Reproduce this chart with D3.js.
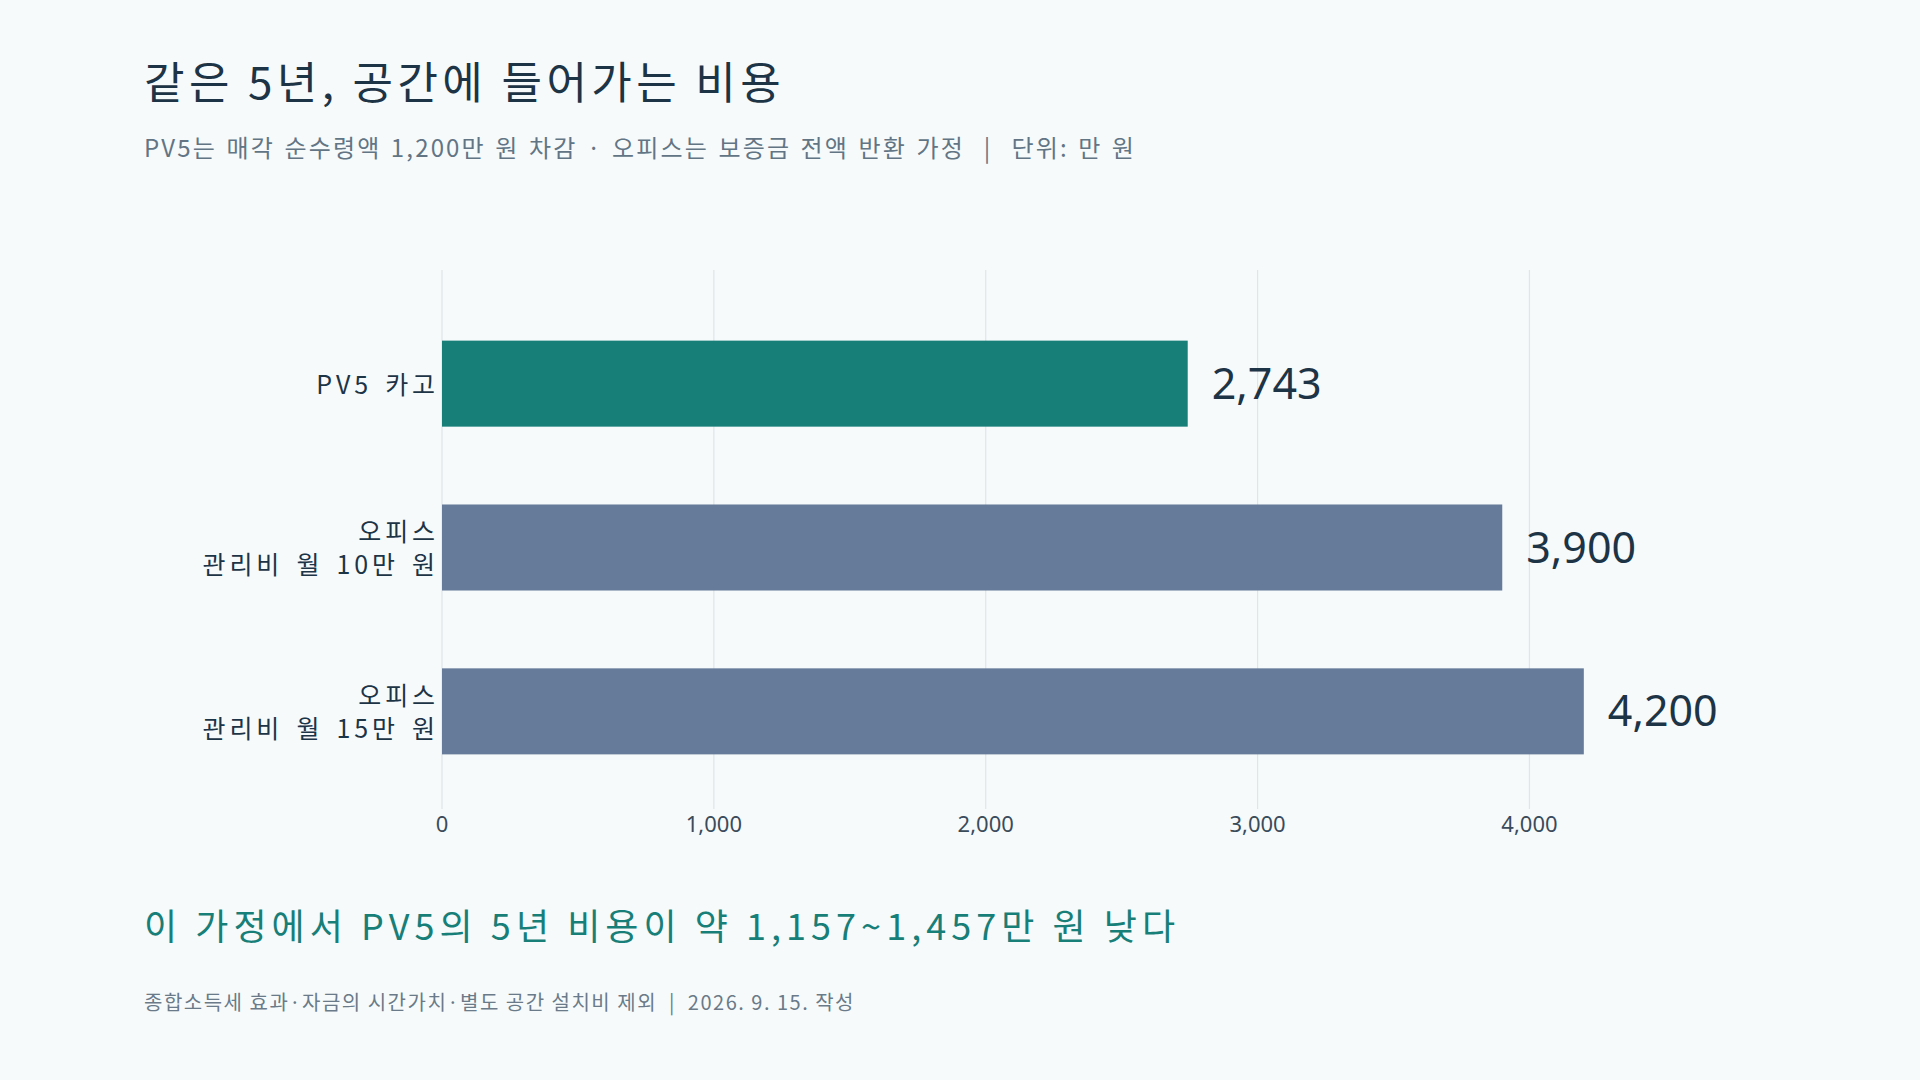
<!DOCTYPE html>
<html>
<head>
<meta charset="utf-8">
<script src="https://cdn.jsdelivr.net/npm/d3@7"></script>
<style>
  html, body { margin: 0; padding: 0; background: #f6fafb; }
  svg text { font-family: "Noto Sans CJK KR", "Noto Sans", sans-serif; white-space: pre; }
</style>
</head>
<body>
<div id="chart"></div>
<script>
// data
var categories = [['PV5 카고'], ['오피스', '관리비 월 10만 원'], ['오피스', '관리비 월 15만 원']];
var values = [2743, 3900, 4200];
var barColors = ['#177f78', '#667a99', '#667a99'];
var tickValues = [0, 1000, 2000, 3000, 4000];

var width = 1920,
    height = 1080;

var svg = d3.select('#chart')
    .append('svg')
        .attr('width', width)
        .attr('height', height);

svg.append('rect')
    .attr('width', width)
    .attr('height', height)
    .attr('fill', '#f6fafb');

// titles
svg.append('text')
    .attr('x', 144)
    .attr('y', 99)
    .attr('font-size', 44)
    .attr('letter-spacing', '0.1em')
    .attr('fill', '#1d3446')
    .text('같은 5년, 공간에 들어가는 비용');

svg.append('text')
    .attr('x', 144)
    .attr('y', 157)
    .attr('font-size', 24)
    .attr('letter-spacing', '0.09em')
    .attr('word-spacing', '0.08em')
    .attr('fill', '#627585')
    .text('PV5는 매각 순수령액 1,200만 원 차감 · 오피스는 보증금 전액 반환 가정  |  단위: 만 원');

var x = d3.scaleLinear()
    .domain([0, 4620])
    .range([442, 1698]);

var y = d3.scaleBand()
    .domain(d3.range(values.length))
    .range([270, 825])
    .paddingInner(0.475)
    .paddingOuter(0.431);

var gridTop = 270,
    gridBottom = 809;

// grid
svg.append('g').selectAll('line')
    .data(tickValues)
    .enter()
    .append('line')
        .attr('x1', function (d) { return x(d); })
        .attr('x2', function (d) { return x(d); })
        .attr('y1', gridTop)
        .attr('y2', gridBottom)
        .style('stroke', '#dfe6e9')
        .style('stroke-width', 1.2);

// tick labels
svg.append('g').selectAll('text')
    .data(tickValues)
    .enter()
    .append('text')
        .attr('x', function (d) { return x(d); })
        .attr('y', 832)
        .attr('text-anchor', 'middle')
        .attr('font-size', 22)
        .style('font-family', '"Noto Sans", sans-serif')
        .attr('fill', '#3a4b5a')
        .text(function (d) { return d3.format(',')(d); });

// bars
svg.append('g').selectAll('rect')
    .data(values)
    .enter()
    .append('rect')
        .attr('x', x(0))
        .attr('y', function (d, i) { return y(i); })
        .attr('width', function (d) { return x(d) - x(0); })
        .attr('height', y.bandwidth())
        .attr('fill', function (d, i) { return barColors[i]; });

// value labels
svg.append('g').selectAll('text')
    .data(values)
    .enter()
    .append('text')
        .attr('x', function (d) { return x(d) + 24; })
        .attr('y', function (d, i) { return y(i) + y.bandwidth() / 2 + 15; })
        .attr('font-size', 43)
        .style('font-family', '"Noto Sans", sans-serif')
        .attr('fill', '#1d3446')
        .text(function (d) { return d3.format(',')(d); });

// category labels
var lineH = 33;
var catG = svg.append('g').selectAll('text')
    .data(categories)
    .enter()
    .append('text')
        .attr('text-anchor', 'end')
        .attr('font-size', 25)
        .attr('letter-spacing', '0.155em')
        .attr('word-spacing', '0.15em')
        .attr('fill', '#1d3446')
        .attr('transform', function (d, i) {
            var cy = y(i) + y.bandwidth() / 2;
            return 'translate(439,' + (cy + 10 - (d.length - 1) * lineH / 2) + ')';
        });

catG.selectAll('tspan')
    .data(function (d) { return d; })
    .enter()
    .append('tspan')
        .attr('x', 0)
        .attr('y', function (d, i) { return i * lineH; })
        .text(function (d) { return d; });

// takeaway
svg.append('text')
    .attr('x', 144)
    .attr('y', 940)
    .attr('font-size', 36)
    .attr('letter-spacing', '0.14em')
    .attr('fill', '#177f78')
    .text('이 가정에서 PV5의 5년 비용이 약 1,157~1,457만 원 낮다');

svg.append('text')
    .attr('x', 144)
    .attr('y', 1010)
    .attr('font-size', 20)
    .attr('letter-spacing', '0.075em')
    .attr('fill', '#6a7a88')
    .text('종합소득세 효과·자금의 시간가치·별도 공간 설치비 제외  |  2026. 9. 15. 작성');
</script>
</body>
</html>
